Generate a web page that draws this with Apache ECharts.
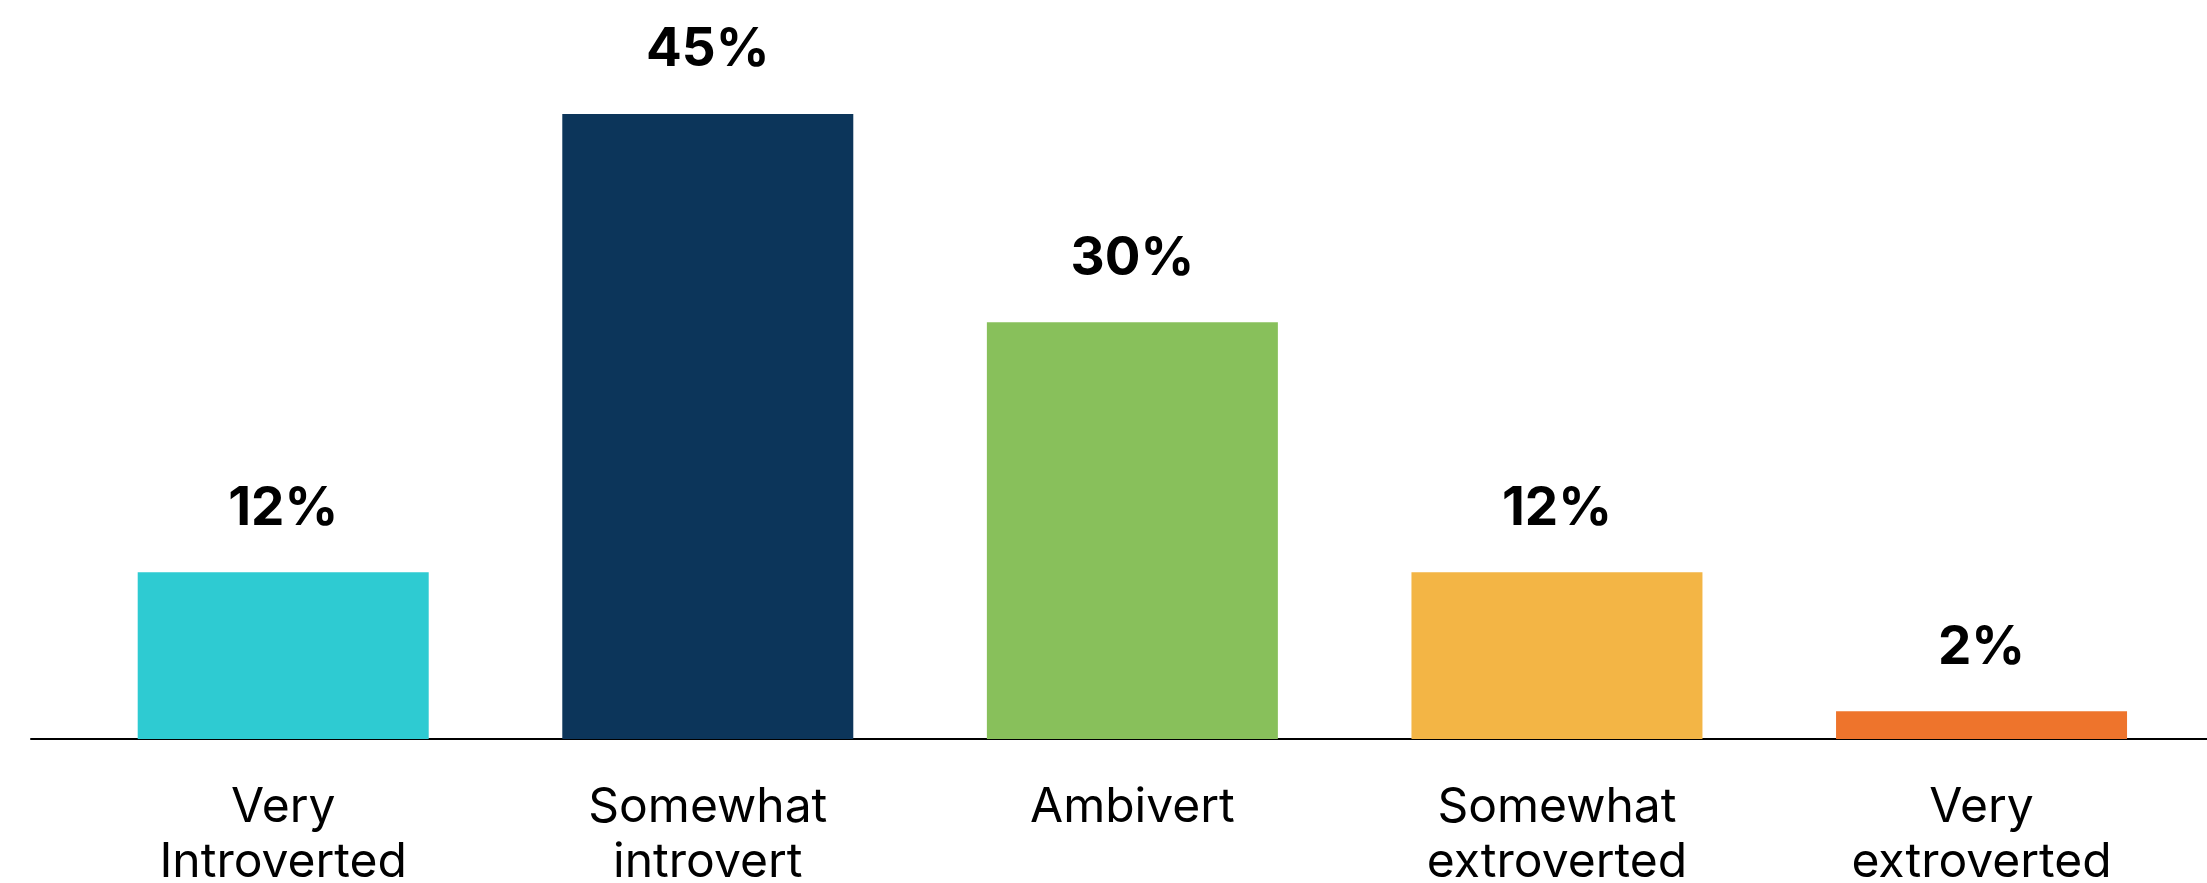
<!DOCTYPE html>
<html>
<head>
<meta charset="utf-8">
<title>Personality spectrum</title>
<script src="https://cdn.jsdelivr.net/npm/echarts@6/dist/echarts.min.js"></script>
<style>
  html, body { margin: 0; padding: 0; background: #ffffff; }
  #chart { width: 2207px; height: 883px; }
</style>
</head>
<body>
<div id="chart"></div>
<script>
// Survey categories, left to right
const categories = ['Very\nIntroverted', 'Somewhat\nintrovert', 'Ambivert', 'Somewhat\nextroverted', 'Very\nextroverted'];
// Share of respondents (%)
const shares = [12, 45, 30, 12, 2];
// Bar fill per category
const barColors = ['#2ECBD2', '#0C355A', '#88C05B', '#F3B545', '#EE742C'];

const positions = categories.map((_, i) => i);

const chart = echarts.init(document.getElementById('chart'), null, { renderer: 'canvas' });

chart.setOption({
  animation: false,
  backgroundColor: '#ffffff',
  grid: { left: 31, right: 0, top: 114, bottom: 144, outerBoundsMode: 'none', containLabel: false },
  xAxis: {
    type: 'value',
    min: -0.594,
    max: 4.531,
    splitLine: { show: false },
    axisTick: { show: false },
    axisLine: { show: true, lineStyle: { color: '#000000', width: 2 } },
    axisLabel: {
      customValues: positions,
      formatter: (v) => categories[Math.round(v)] ?? '',
      color: '#000000',
      fontFamily: 'Inter',
      fontSize: 48,
      lineHeight: 55,
      margin: 41,
      align: 'center',
      verticalAlign: 'top'
    }
  },
  yAxis: {
    type: 'value',
    min: 0,
    max: 45,
    show: false,
    splitLine: { show: false }
  },
  series: [{
    type: 'bar',
    barWidth: 291,
    data: positions.map((i) => ({
      value: [i, shares[i]],
      itemStyle: { color: barColors[i] }
    })),
    label: {
      show: true,
      position: 'top',
      distance: 37,
      formatter: (p) => p.value[1] + '%',
      color: '#000000',
      fontFamily: 'Inter',
      fontWeight: 'bold',
      fontSize: 53,
      lineHeight: 53
    }
  }]
});
</script>
</body>
</html>
